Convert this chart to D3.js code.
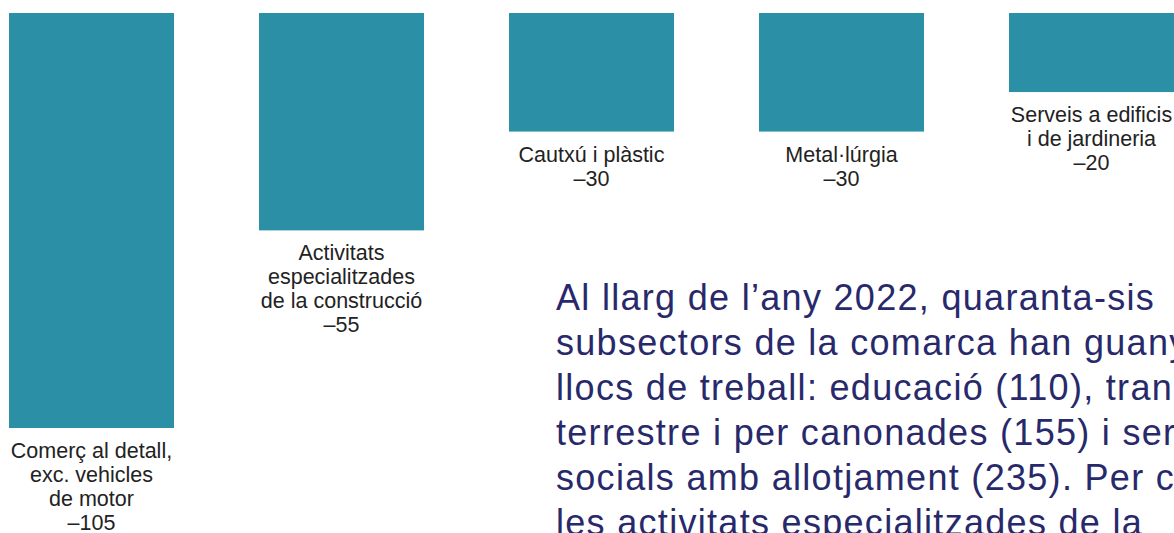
<!DOCTYPE html>
<html>
<head>
<meta charset="utf-8">
<script src="https://cdn.jsdelivr.net/npm/d3@7"></script>
<style>
  html, body { margin: 0; padding: 0; background: #fff; overflow: hidden; }
  svg { display: block; }
</style>
</head>
<body>
<svg id="chart" width="1174" height="533"></svg>
<script>
'use strict';

// subsectors that lost jobs
const categories = ['comerc', 'construccio', 'cautxu', 'metall', 'serveis'];
const labelLines = [
  ['Comerç al detall,', 'exc. vehicles', 'de motor'],
  ['Activitats', 'especialitzades', 'de la construcció'],
  ['Cautxú i plàstic'],
  ['Metal·lúrgia'],
  ['Serveis a edificis', 'i de jardineria']
];
const values = [-105, -55, -30, -30, -20];

const paragraphLines = [
  'Al llarg de l’any 2022, quaranta-sis',
  'subsectors de la comarca han guanyat',
  'llocs de treball: educació (110), transport',
  'terrestre i per canonades (155) i serveis',
  'socials amb allotjament (235). Per contra,',
  'les activitats especialitzades de la'
];

const barColor = '#2b8fa5';
const labelColor = '#222222';
const textColor = '#28296b';

const svg = d3.select('#chart');

const x = d3.scaleBand()
  .domain(categories)
  .range([9, 1174])
  .paddingInner(0.34)
  .paddingOuter(0);

const y = d3.scaleLinear()
  .domain([0, -105])
  .range([13, 428]);

const formatValue = v => (v < 0 ? '\u2013' + Math.abs(v) : String(v));

const bars = svg.append('g').attr('class', 'bars');

bars.selectAll('rect')
  .data(categories)
  .join('rect')
  .attr('x', d => x(d))
  .attr('y', y(0))
  .attr('width', x.bandwidth())
  .attr('height', (d, i) => y(values[i]) - y(0))
  .attr('fill', barColor);

const labels = svg.append('g').attr('class', 'labels')
  .style('font-family', '"Liberation Sans", Arial, Helvetica, sans-serif')
  .style('font-size', '21.5px')
  .attr('fill', labelColor)
  .attr('text-anchor', 'middle');

labels.selectAll('text')
  .data(categories)
  .join('text')
  .attr('x', d => x(d) + x.bandwidth() / 2)
  .attr('y', (d, i) => y(values[i]) + 30)
  .each(function (d, i) {
    const lines = labelLines[i].concat([formatValue(values[i])]);
    d3.select(this).selectAll('tspan')
      .data(lines)
      .join('tspan')
      .attr('x', x(d) + x.bandwidth() / 2)
      .attr('dy', (l, j) => (j === 0 ? 0 : 24))
      .text(l => l);
  });

svg.append('text')
  .attr('x', 556)
  .attr('y', 310)
  .attr('fill', textColor)
  .style('font-family', '"Liberation Sans", Arial, Helvetica, sans-serif')
  .style('font-size', '36px')
  .style('letter-spacing', '1.3px')
  .selectAll('tspan')
  .data(paragraphLines)
  .join('tspan')
  .attr('x', 556)
  .attr('dy', (d, i) => (i === 0 ? 0 : 45))
  .text(d => d);
</script>
</body>
</html>
